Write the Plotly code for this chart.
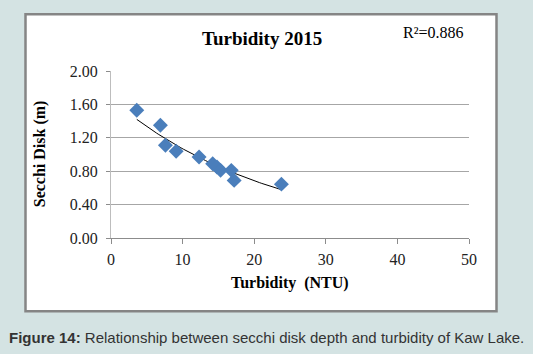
import numpy as np
import plotly.graph_objects as go

turbidity = [3.6, 6.9, 7.6, 9.1, 12.3, 14.2, 14.8, 15.3, 16.8, 17.2, 23.8]
secchi = [1.53, 1.35, 1.11, 1.04, 0.97, 0.89, 0.85, 0.81, 0.81, 0.69, 0.645]
x_ticks = [0, 10, 20, 30, 40, 50]
y_ticks = [0.0, 0.4, 0.8, 1.2, 1.6, 2.0]

# exponential trendline fitted to the data
b, ln_a = np.polyfit(turbidity, np.log(secchi), 1)
xt = np.linspace(min(turbidity), max(turbidity), 60)
yt = np.exp(ln_a) * np.exp(b * xt)

W, H = 533, 354
L, R, T, B = 111, 469, 70.5, 238
pw, ph = R - L, B - T

def px(x):
    return (x - L) / pw

def py(y):
    return (B - y) / ph

serif = "Liberation Serif"

def ann(text, x, y, size, family=serif, color="black", angle=0):
    return dict(text=text, x=px(x), y=py(y), xref="paper", yref="paper",
                xanchor="center", yanchor="middle", showarrow=False, textangle=angle,
                font=dict(family=family, size=size, color=color))

fig = go.Figure()
fig.add_trace(go.Scatter(x=xt, y=yt, mode="lines",
                         line=dict(color="black", width=1), hoverinfo="skip"))
fig.add_trace(go.Scatter(x=turbidity, y=secchi, mode="markers",
                         marker=dict(symbol="diamond", size=11.5, color="#4a7ebb",
                                     line=dict(width=0))))

fig.update_layout(
    width=W, height=H,
    margin=dict(l=L, r=W - R, t=T, b=H - B),
    paper_bgcolor="#d4e3e3", plot_bgcolor="white",
    showlegend=False,
    font=dict(family=serif, size=16, color="#222"),
    xaxis=dict(range=[0, 50], tickvals=x_ticks, showgrid=False, zeroline=False,
               showline=True, linecolor="#8c8c8c", linewidth=1,
               ticks="outside", ticklen=5, tickcolor="#8c8c8c",
               ticklabelstandoff=2,
               tickfont=dict(family=serif, size=16, color="#222")),
    yaxis=dict(range=[0, 2], tickvals=y_ticks, tickformat=".2f",
               showgrid=True, gridcolor="#a6a6a6", gridwidth=1, zeroline=False,
               showline=True, linecolor="#bdbdbd", linewidth=1,
               ticks="outside", ticklen=4, tickcolor="#8c8c8c",
               ticklabelstandoff=5,
               tickfont=dict(family=serif, size=16, color="#222")),
    shapes=[dict(type="rect", xref="paper", yref="paper", layer="below",
                 x0=px(25.5), x1=px(496.5), y0=py(311.5), y1=py(13.5),
                 fillcolor="white", line=dict(color="#858585", width=2.5))],
    annotations=[
        ann("<b>Turbidity 2015</b>", 262, 38, 19),
        ann("R²=0.886", 433, 32, 16),
        ann("<b>Secchi Disk (m)</b>", 40, 154, 16, angle=-90),
        ann("<b>Turbidity  (NTU)</b>", 290, 283, 16),
        ann("<b>Figure 14:</b> Relationship between secchi disk depth and turbidity of Kaw Lake.",
            266, 338, 15, family="Liberation Sans", color="#333"),
    ],
)

fig.write_html("out.html")
